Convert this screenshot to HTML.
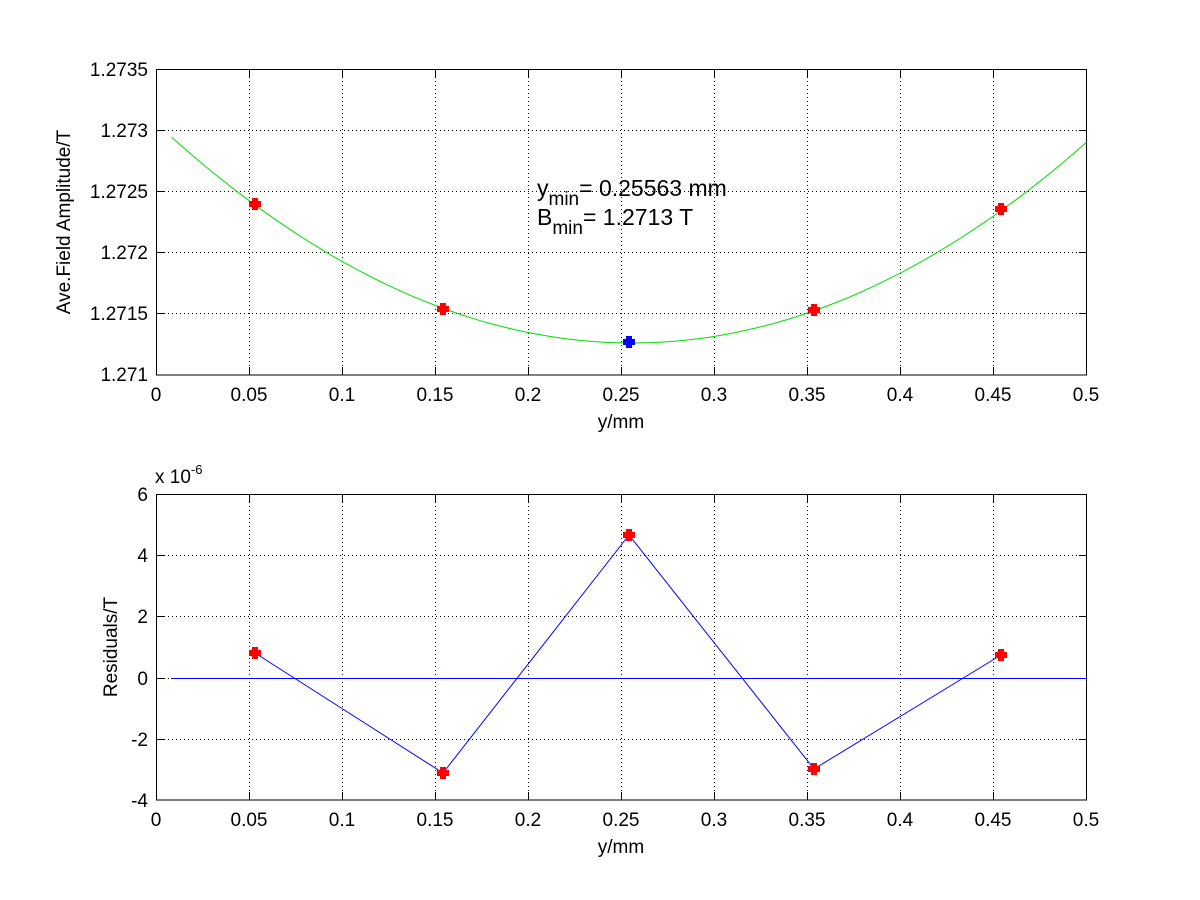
<!DOCTYPE html>
<html><head><style>body{margin:0;background:#fff}svg{display:block}text{font-family:"Liberation Sans",Arial,sans-serif;fill:#000}</style></head><body>
<svg width="1200" height="900" xmlns="http://www.w3.org/2000/svg">
<rect width="1200" height="900" fill="#fff"/>
<g stroke="#000" stroke-width="1" stroke-dasharray="1,3" fill="none">
<path d="M342.5 69V375M528.5 69V375M714.5 69V375M900.5 69V375M249.5 69V375M435.5 69V375M621.5 69V375M807.5 69V375M993.5 69V375"/>
<path d="M156 130.5H1087M156 191.5H1087M156 252.5H1087M156 313.5H1087"/>
<path d="M342.5 494V800M528.5 494V800M714.5 494V800M900.5 494V800M249.5 494V800M435.5 494V800M621.5 494V800M807.5 494V800M993.5 494V800"/>
<path d="M156 555.5H1087M156 616.5H1087M156 678.5H1087M156 739.5H1087"/>
</g>
<rect x="156.5" y="69.5" width="930" height="305.5" fill="none" stroke="#000"/>
<rect x="156.5" y="494.5" width="930" height="305.5" fill="none" stroke="#000"/>
<g stroke="#000">
<path d="M249.5 375v-8M342.5 375v-8M435.5 375v-8M528.5 375v-8M621.5 375v-8M714.5 375v-8M807.5 375v-8M900.5 375v-8M993.5 375v-8M249.5 69v8M342.5 69v8M435.5 69v8M528.5 69v8M621.5 69v8M714.5 69v8M807.5 69v8M900.5 69v8M993.5 69v8"/>
<path d="M156 130.5h8M156 191.5h8M156 252.5h8M156 313.5h8M1087 130.5h-8M1087 191.5h-8M1087 252.5h-8M1087 313.5h-8"/>
<path d="M249.5 800v-8M342.5 800v-8M435.5 800v-8M528.5 800v-8M621.5 800v-8M714.5 800v-8M807.5 800v-8M900.5 800v-8M993.5 800v-8M249.5 494v8M342.5 494v8M435.5 494v8M528.5 494v8M621.5 494v8M714.5 494v8M807.5 494v8M900.5 494v8M993.5 494v8"/>
<path d="M156 555.5h8M156 616.5h8M156 678.5h8M156 739.5h8M1087 555.5h-8M1087 616.5h-8M1087 678.5h-8M1087 739.5h-8"/>
</g>
<polyline id="fit" fill="none" stroke="#00dd00" stroke-width="1" points=""/>
<script>
(function(){var p=[];for(var i=0;i<=80;i++){var x=0.008+i*(0.5-0.008)/80;var px=156.5+x*1860;var y=343-3360*(x-0.2556)*(x-0.2556);p.push(px.toFixed(1)+','+y.toFixed(1));}document.getElementById('fit').setAttribute('points',p.join(' '));})();
</script>
<defs><path id="m" d="M-3 -6h6v3h3v6h-3v3h-6v-3h-3v-6h3z"/></defs>
<g fill="#f00">
<use href="#m" x="255" y="204"/><use href="#m" x="443" y="309"/><use href="#m" x="814" y="310"/><use href="#m" x="1001" y="209"/>
</g>
<use href="#m" x="629" y="342" fill="#00f"/>
<path d="M171 678.5H1087" stroke="#00f" fill="none"/>
<polyline points="255,653 443,773 629,535 814,769 1001,655" stroke="#00f" fill="none"/>
<g fill="#f00">
<use href="#m" x="255" y="653"/><use href="#m" x="443" y="773"/><use href="#m" x="629" y="535"/><use href="#m" x="814" y="769"/><use href="#m" x="1001" y="655"/>
</g>
<g font-size="19" text-anchor="middle">
<text x="156" y="401">0</text><text x="249" y="401">0.05</text><text x="342" y="401">0.1</text><text x="435" y="401">0.15</text><text x="528" y="401">0.2</text><text x="621" y="401">0.25</text><text x="714" y="401">0.3</text><text x="807" y="401">0.35</text><text x="900" y="401">0.4</text><text x="993" y="401">0.45</text><text x="1086" y="401">0.5</text>
<text x="156" y="826">0</text><text x="249" y="826">0.05</text><text x="342" y="826">0.1</text><text x="435" y="826">0.15</text><text x="528" y="826">0.2</text><text x="621" y="826">0.25</text><text x="714" y="826">0.3</text><text x="807" y="826">0.35</text><text x="900" y="826">0.4</text><text x="993" y="826">0.45</text><text x="1086" y="826">0.5</text>
<text x="621" y="428">y/mm</text><text x="621" y="853">y/mm</text>
</g>
<g font-size="19" text-anchor="end">
<text x="148" y="76">1.2735</text><text x="148" y="137">1.273</text><text x="148" y="198">1.2725</text><text x="148" y="259">1.272</text><text x="148" y="320">1.2715</text><text x="148" y="381">1.271</text>
<text x="148" y="501">6</text><text x="148" y="562">4</text><text x="148" y="623">2</text><text x="148" y="685">0</text><text x="148" y="746">-2</text><text x="148" y="807">-4</text>
</g>
<text font-size="19" x="155" y="483">x 10<tspan font-size="13" dy="-9">-6</tspan></text>
<text font-size="19" text-anchor="middle" transform="translate(70,222) rotate(-90)">Ave.Field Amplitude/T</text>
<text font-size="19" text-anchor="middle" transform="translate(117,647) rotate(-90)">Residuals/T</text>
<text font-size="23" x="537" y="196">y<tspan font-size="19" dy="9">min</tspan><tspan dy="-9">= 0.25563 mm</tspan></text>
<text font-size="23" x="537" y="225">B<tspan font-size="19" dy="9">min</tspan><tspan dy="-9">= 1.2713 T</tspan></text>
</svg>
</body></html>
